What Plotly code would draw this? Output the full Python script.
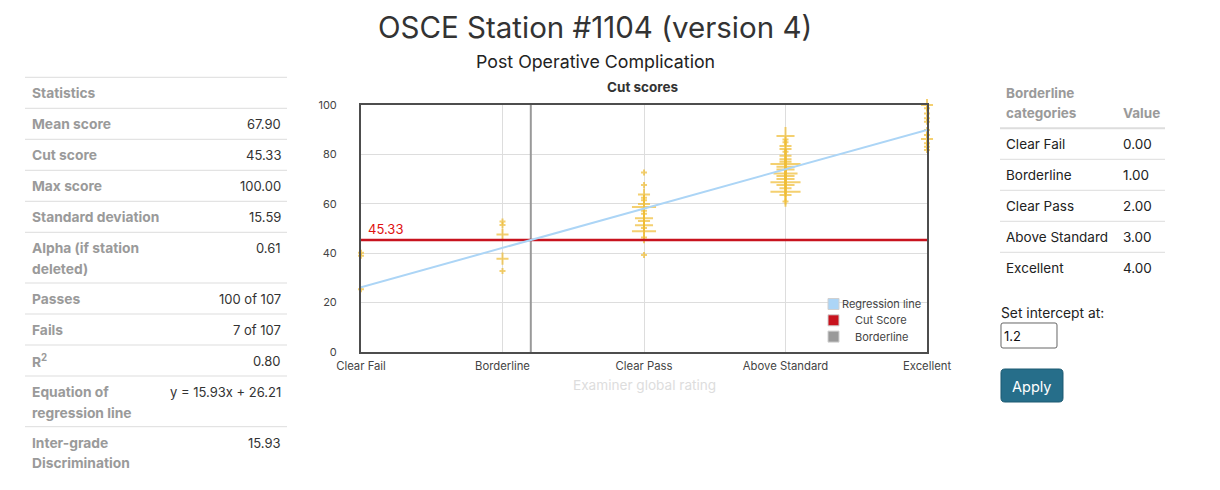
import plotly.graph_objects as go

# ---------------- data ----------------
categories = ["Clear Fail", "Borderline", "Clear Pass", "Above Standard", "Excellent"]
category_values = [0, 1, 2, 3, 4]

clear_fail_scores = [40.2, 39.0, 25.4]
clear_fail_counts = [1, 1, 1]

borderline_scores = [52.8, 51.4, 47.6, 37.8, 32.8]
borderline_counts = [1, 1, 2, 2, 1]

clear_pass_scores = [72.7, 67.6, 63.8, 62.5, 61.4, 59.9, 58.7, 57.2, 56.0, 54.1, 53.0, 51.3, 50.2, 48.9, 46.4, 39.3]
clear_pass_counts = [1, 1, 2, 1, 1, 2, 4, 1, 1, 3, 2, 3, 1, 4, 1, 1]

above_standard_scores = [87.4, 86.0, 84.9, 83.4, 82.2, 81.1, 79.5, 78.0, 77.0, 76.1, 75.0, 73.9, 72.3, 71.3, 70.0, 68.7, 67.6, 66.3, 64.9, 63.6, 60.9]
above_standard_counts = [3, 1, 1, 2, 2, 1, 2, 2, 2, 5, 3, 3, 4, 3, 3, 5, 3, 2, 5, 2, 1]

excellent_scores = [100.0, 98.7, 96.6, 94.6, 93.2, 89.9, 87.9, 86.2, 84.5, 83.1, 81.8]
excellent_counts = [2, 1, 1, 1, 1, 1, 1, 2, 1, 1, 1]

slope = 15.93
intercept = 26.21
borderline_at = 1.2
cut_score = 45.33

stat_header = "Statistics"
stat_labels = [["Mean score"], ["Cut score"], ["Max score"], ["Standard deviation"],
               ["Alpha (if station", "deleted)"], ["Passes"], ["Fails"], ["R<sup>2</sup>"],
               ["Equation of", "regression line"], ["Inter-grade", "Discrimination"]]
stat_values = ["67.90", "45.33", "100.00", "15.59", "0.61", "100 of 107", "7 of 107",
               "0.80", "y = 15.93x + 26.21", "15.93"]

legend_labels = ["Regression line", "Cut Score", "Borderline"]

# ---------------- helpers ----------------
W, H = 1220, 490
OFF = 8  # page body margin
FONT = "Inter"
PX0, PX1, PY0, PY1 = 361, 927, 105, 352

def fx(x):
    return (x - OFF) / W

def fy(y):
    return 1 - (y - OFF) / H

annotations = []
shapes = []

def ann(x, y, text, size=13, color="#333", xanchor="left", family=FONT):
    annotations.append(dict(x=fx(x), y=fy(y), xref="paper", yref="paper", text=text,
                            showarrow=False, xanchor=xanchor, yanchor="middle",
                            font=dict(family=family, size=size, color=color)))

def hline(x0, x1, y, color="#dddddd", width=1):
    shapes.append(dict(type="line", xref="paper", yref="paper", x0=fx(x0), x1=fx(x1),
                       y0=fy(y), y1=fy(y), line=dict(color=color, width=width)))

def rrect(x0, y0, x1, y1, r, fill, line_color, lw=1):
    def p(x, y):
        return f"{fx(x):.6f},{fy(y):.6f}"
    path = (f"M {p(x0 + r, y0)} L {p(x1 - r, y0)} Q {p(x1, y0)} {p(x1, y0 + r)} "
            f"L {p(x1, y1 - r)} Q {p(x1, y1)} {p(x1 - r, y1)} L {p(x0 + r, y1)} "
            f"Q {p(x0, y1)} {p(x0, y1 - r)} L {p(x0, y0 + r)} Q {p(x0, y0)} {p(x0 + r, y0)} Z")
    shapes.append(dict(type="path", xref="paper", yref="paper", path=path,
                       fillcolor=fill, line=dict(color=line_color, width=lw)))

# ---------------- figure ----------------
fig = go.Figure()

GOLD = "#f0bd35"
series = [(clear_fail_scores, clear_fail_counts), (borderline_scores, borderline_counts),
          (clear_pass_scores, clear_pass_counts), (above_standard_scores, above_standard_counts),
          (excellent_scores, excellent_counts)]
for xv, (scores, counts) in zip(category_values, series):
    fig.add_trace(go.Scatter(
        x=[xv] * len(scores), y=scores, mode="markers", showlegend=False, cliponaxis=False,
        marker=dict(symbol="cross-thin", size=[4.3 * c for c in counts],
                    line=dict(color=GOLD, width=2)),
        hoverinfo="skip"))

REG = "#acd5f6"
RED = "#c8131e"
GRAY = "#999999"

fig.add_trace(go.Scatter(x=[borderline_at, borderline_at], y=[0, 100], mode="lines",
                         line=dict(color=GRAY, width=2), showlegend=False))
fig.add_trace(go.Scatter(x=[category_values[0], category_values[-1]], y=[cut_score, cut_score],
                         mode="lines", line=dict(color=RED, width=2.6), showlegend=False))
fig.add_trace(go.Scatter(x=[category_values[0], category_values[-1]],
                         y=[intercept + slope * category_values[0], intercept + slope * category_values[-1]],
                         mode="lines", line=dict(color=REG, width=2), showlegend=False))

# titles
ann(595, 27, "OSCE Station #1104 (version 4)", size=29.5, color="#333", xanchor="center")
ann(595, 62, "Post Operative Complication", size=17.8, color="#222", xanchor="center")
ann(643, 87, "<b>Cut scores</b>", size=13.5, color="#333", xanchor="center")
ann(644, 385, "Examiner global rating", size=13.6, color="#dddddd", xanchor="center")
ann(366, 229, f"{cut_score:.2f}", size=13, color="#e01010")

# legend
leg_colors = [REG, RED, GRAY]
for i, (lab, col) in enumerate(zip(legend_labels, leg_colors)):
    yc = 304 + 16.3 * i
    shapes.append(dict(type="rect", xref="paper", yref="paper", x0=fx(828), x1=fx(839),
                       y0=fy(yc - 5.5), y1=fy(yc + 5.5), fillcolor=col,
                       line=dict(color="#d0d0d0", width=1)))
    ann(881, yc, lab, size=11, color="#444", xanchor="center")

# left statistics table
LX0, LX1 = 25, 287
top = 77.3
hline(LX0, LX1, top)
ann(30, top + 16, f"<b>{stat_header}</b>", size=13.8, color="#9a9a9a")
top += 31
for lines, val in zip(stat_labels, stat_values):
    hline(LX0, LX1, top)
    for j, ln in enumerate(lines):
        ann(30, top + 16 + 20.5 * j, f"<b>{ln}</b>", size=13.8, color="#9a9a9a")
    ann(283, top + 16, val, size=13, color="#333", xanchor="right")
    top += 31 if len(lines) == 1 else 50.7

# right categories table
RX0, RX1 = 1000, 1165
ann(1004, 92.7, "<b>Borderline</b>", size=13.5, color="#9a9a9a")
ann(1004, 112.7, "<b>categories</b>", size=13.5, color="#9a9a9a")
ann(1121, 112.7, "<b>Value</b>", size=13.5, color="#9a9a9a")
hline(RX0, RX1, 128.3, color="#dddddd", width=2)
for i, (cat, v) in enumerate(zip(categories, category_values)):
    yc = 144 + 31 * i
    ann(1004, yc, cat, size=13.5, color="#222")
    ann(1121, yc, f"{v:.2f}", size=13.5, color="#222")
    if i < len(categories) - 1:
        hline(RX0, RX1, yc + 15.3)

ann(999, 313.3, "Set intercept at:", size=13.8, color="#222")
rrect(1001, 323, 1057, 348, 2, "white", "#666666", 1)
ann(1002, 336, f"{borderline_at}", size=13, color="#111")
rrect(1001, 369, 1063, 402, 4, "#266e8a", "#1d5a72", 1)
ann(1032, 386, "Apply", size=14.5, color="white", xanchor="center")

fig.update_layout(
    width=W, height=H, autosize=False,
    margin=dict(l=0, r=0, t=0, b=0, pad=0, autoexpand=False),
    paper_bgcolor="white", plot_bgcolor="white",
    font=dict(family=FONT, color="#444"),
    annotations=annotations, shapes=shapes,
    xaxis=dict(domain=[fx(PX0), fx(PX1)], range=[0, 4], tickvals=category_values,
               ticktext=categories, showgrid=True, gridcolor="#dddddd", gridwidth=1,
               zeroline=False, showline=True, mirror=True, linecolor="#4d4d4d", linewidth=2,
               tickfont=dict(size=11.3, color="#444"), ticks="", ticklabelstandoff=2,
               automargin=False),
    yaxis=dict(domain=[fy(PY1), fy(PY0)], range=[0, 100], dtick=20, showgrid=True,
               gridcolor="#dddddd", gridwidth=1, zeroline=False, showline=True, mirror=True,
               linecolor="#4d4d4d", linewidth=2, tickfont=dict(size=11, color="#444"),
               ticks="", ticklabelstandoff=20, automargin=False),
    hovermode=False,
)

fig.write_html("out.html")
